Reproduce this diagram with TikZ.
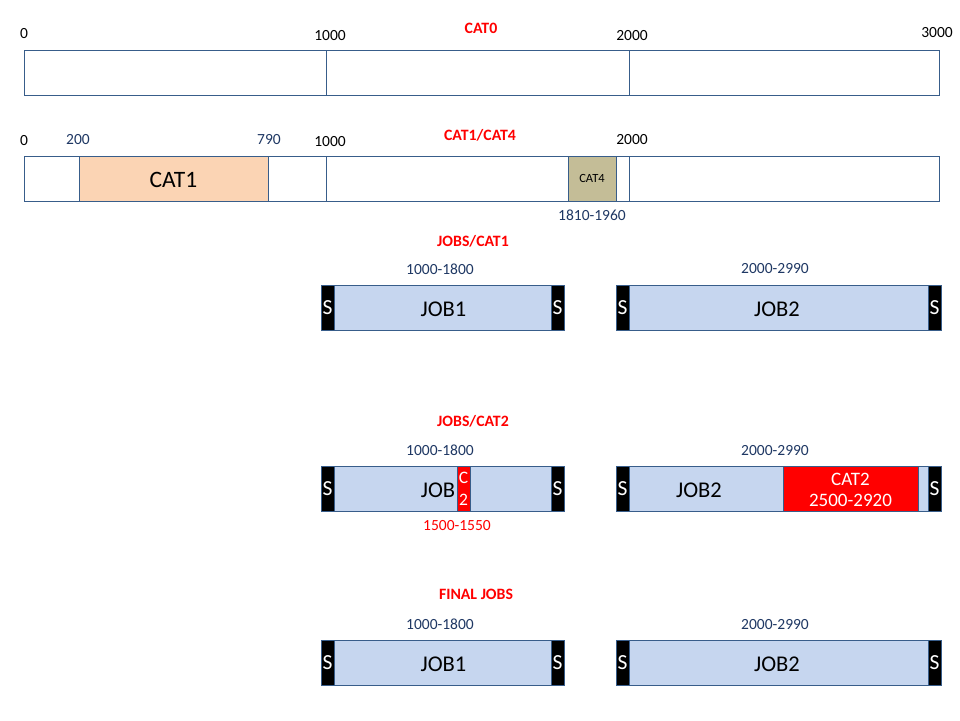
\documentclass[tikz,border=0pt]{standalone}
\usepackage{fontspec}
\setmainfont{Carlito}
\definecolor{outl}{HTML}{385D8A}
\definecolor{navy}{HTML}{1F3864}
\definecolor{jobblue}{HTML}{C6D6EF}
\definecolor{peach}{HTML}{FBD4B4}
\definecolor{tan}{HTML}{C4BD97}
\definecolor{redc}{HTML}{FF0000}
\begin{document}
\begin{tikzpicture}[x=1pt,y=-1pt,
  box/.style={draw=outl, line width=0.9pt, inner sep=0pt, outer sep=0pt, anchor=north west},
  sbar/.style={box, fill=black, text=white, font=\fontsize{21.5}{23}\selectfont},
  num/.style={inner sep=0pt, font=\fontsize{15.5}{17}\selectfont},
  navynum/.style={num, text=navy},
  title/.style={inner sep=0pt, text=redc, font=\bfseries\fontsize{15.8}{17}\selectfont},
  big/.style={inner sep=0pt, font=\fontsize{22.5}{24}\selectfont}]
\useasboundingbox[fill=white] (0,0) rectangle (960,720);

% ---------- CAT0 ----------
\node[title] (t0) at (481,28) {CAT0};
\node[box, minimum width=302pt, minimum height=45pt] (a1) at (24,50) {};
\node[box, minimum width=303pt, minimum height=45pt] (a2) at (326,50) {};
\node[box, minimum width=310pt, minimum height=45pt] (a3) at (629,50) {};
\node[num] (l00) at (24,34) {0};
\node[num] (l01) at (330,36) {1000};
\node[num] (l02) at (632,36) {2000};
\node[num] (l03) at (937,33) {3000};

% ---------- CAT1/CAT4 ----------
\node[title] (t1) at (480,135) {CAT1/CAT4};
\node[box, minimum width=302pt, minimum height=45pt] (b1) at (24,156) {};
\node[box, minimum width=303pt, minimum height=45pt] (b2) at (326,156) {};
\node[box, minimum width=310pt, minimum height=45pt] (b3) at (629,156) {};
\node[box, fill=peach, minimum width=189pt, minimum height=45pt] (cat1) at (79,156) {};
\node[inner sep=0pt, font=\fontsize{23.5}{25}\selectfont] (cat1t) at (173.5,180) {CAT1};
\node[box, fill=tan, minimum width=48pt, minimum height=45pt, font=\fontsize{12.5}{14}\selectfont] (cat4) at (568,156) {CAT4};
\node[num] (l10) at (24,141) {0};
\node[navynum] (l11) at (78,140) {200};
\node[navynum] (l12) at (269,140) {790};
\node[num] (l13) at (330,142) {1000};
\node[num] (l14) at (632,140) {2000};
\node[navynum] (l15) at (592,215) {1810-1960};

% ---------- JOBS/CAT1 ----------
\node[title] (t2) at (473,241) {JOBS/CAT1};
\node[navynum] (r1a) at (440,269) {1000-1800};
\node[navynum] (r1b) at (775,269) {2000-2990};
\node[box, fill=jobblue, minimum width=243pt, minimum height=45pt] (j1) at (321,285) {};
\node[big] (j1t) at (443.5,309.5) {JOB1};
\node[sbar, minimum width=13pt, minimum height=45pt] (j1s1) at (321,285) {S};
\node[sbar, minimum width=13pt, minimum height=45pt] (j1s2) at (551,285) {S};
\node[box, fill=jobblue, minimum width=325pt, minimum height=45pt] (j2) at (616,285) {};
\node[big] (j2t) at (777,309.5) {JOB2};
\node[sbar, minimum width=13pt, minimum height=45pt] (j2s1) at (616,285) {S};
\node[sbar, minimum width=13pt, minimum height=45pt] (j2s2) at (928,285) {S};

% ---------- JOBS/CAT2 ----------
\node[title] (t3) at (473,421) {JOBS/CAT2};
\node[navynum] (r2a) at (440,450) {1000-1800};
\node[navynum] (r2b) at (775,451) {2000-2990};
\node[box, fill=jobblue, minimum width=243pt, minimum height=45pt] (k1) at (321,466) {};
\node[big] (k1t) at (438,490) {JOB};
\node[box, fill=redc, minimum width=13pt, minimum height=45pt] (c2) at (457,466) {};
\node[inner sep=0pt, text=white, font=\fontsize{17.5}{19}\selectfont] (c2a) at (463.5,478) {C};
\node[inner sep=0pt, text=white, font=\fontsize{17.5}{19}\selectfont] (c2b) at (463.5,499.5) {2};
\node[sbar, minimum width=13pt, minimum height=45pt] (k1s1) at (321,466) {S};
\node[sbar, minimum width=13pt, minimum height=45pt] (k1s2) at (551,466) {S};
\node[inner sep=0pt, text=redc, font=\fontsize{15.5}{17}\selectfont] (r2c) at (457,526) {1500-1550};
\node[box, fill=jobblue, minimum width=325pt, minimum height=45pt] (k2) at (616,466) {};
\node[big] (k2t) at (699,490) {JOB2};
\node[box, fill=redc, minimum width=135pt, minimum height=45pt] (cat2) at (783,466) {};
\node[inner sep=0pt, text=white, font=\fontsize{19}{21}\selectfont] (cat2a) at (850.5,479) {CAT2};
\node[inner sep=0pt, text=white, font=\fontsize{19}{21}\selectfont] (cat2b) at (850.5,500) {2500-2920};
\node[sbar, minimum width=13pt, minimum height=45pt] (k2s1) at (616,466) {S};
\node[sbar, minimum width=13pt, minimum height=45pt] (k2s2) at (928,466) {S};

% ---------- FINAL JOBS ----------
\node[title] (t4) at (476,594) {FINAL JOBS};
\node[navynum] (r3a) at (440,624) {1000-1800};
\node[navynum] (r3b) at (775,625) {2000-2990};
\node[box, fill=jobblue, minimum width=243pt, minimum height=45pt] (f1) at (321,640) {};
\node[big] (f1t) at (443.5,664.5) {JOB1};
\node[sbar, minimum width=13pt, minimum height=45pt] (f1s1) at (321,640) {S};
\node[sbar, minimum width=13pt, minimum height=45pt] (f1s2) at (551,640) {S};
\node[box, fill=jobblue, minimum width=325pt, minimum height=45pt] (f2) at (616,640) {};
\node[big] (f2t) at (777,664.5) {JOB2};
\node[sbar, minimum width=13pt, minimum height=45pt] (f2s1) at (616,640) {S};
\node[sbar, minimum width=13pt, minimum height=45pt] (f2s2) at (928,640) {S};
\end{tikzpicture}
\end{document}
